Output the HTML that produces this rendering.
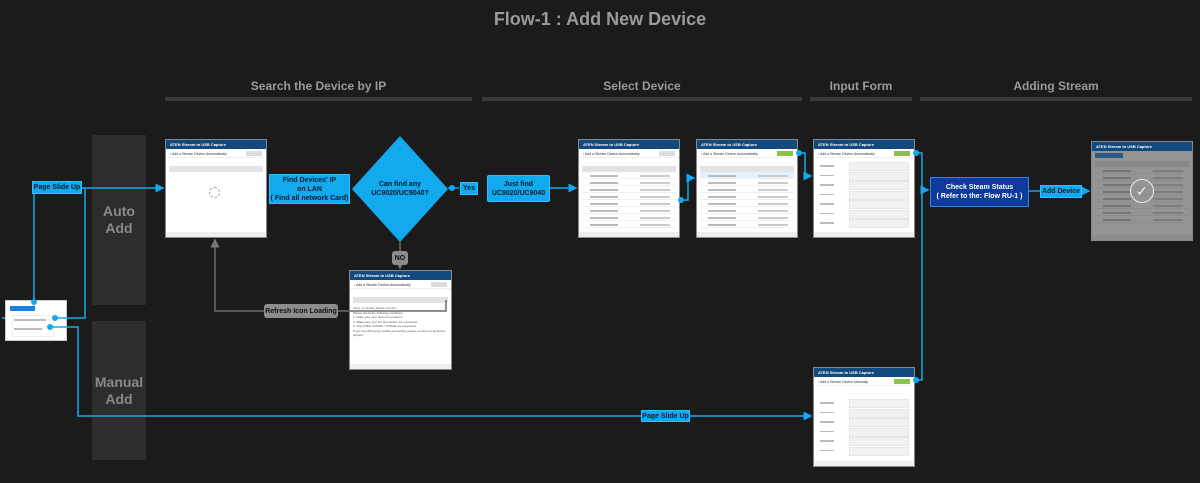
<!DOCTYPE html>
<html><head><meta charset="utf-8">
<style>
*{box-sizing:border-box;margin:0;padding:0}
body{width:1200px;height:483px;background:#1b1b1b;font-family:"Liberation Sans",sans-serif;position:relative;overflow:hidden}
.a{position:absolute}
.title{left:0;width:1200px;top:9px;text-align:center;color:#9a9a9a;font-weight:bold;font-size:18px}
.sh{color:#9a9a9a;font-weight:bold;font-size:12px;text-align:center;top:79px}
.bar{top:97px;height:4px;background:#3a3a3a}
.col{background:#2d2d2d;color:#8a8a8a;font-weight:bold;font-size:14px;text-align:center;display:flex;align-items:center;justify-content:center;line-height:17px}
.win{background:#fff;border:1px solid #888;overflow:hidden}
.win .hd{height:9px;background:#124a80;color:#fff;font-size:4px;font-weight:bold;padding:2px 4px;white-space:nowrap}
.win .sub{height:9px;font-size:3.5px;color:#333;padding:3px 4px;border-bottom:1px solid #eee;white-space:nowrap}
.win .th{height:6px;background:#e3e3e3;margin:4px 3px 0}
.row{height:7px;border-bottom:1px solid #f0f0f0;margin:0 3px;position:relative}
.row:before{content:"";position:absolute;left:8px;top:3px;width:28px;height:1.5px;background:#bbb}
.row:after{content:"";position:absolute;left:58px;top:3px;width:30px;height:1.5px;background:#ccc}
.ft{position:absolute;bottom:0;left:0;right:0;height:5px;background:#eee}
.btn{position:absolute;right:4px;top:11px;width:16px;height:5px;background:#8bc34a}
.btng{background:#ddd}
.fr{height:9.5px;margin:0 3px;position:relative}
.fr:before{content:"";position:absolute;left:3px;top:4px;width:14px;height:1.5px;background:#bbb}
.fr:after{content:"";position:absolute;left:32px;top:1px;right:2px;height:7px;background:#f1f1f1;border:1px solid #e6e6e6}
.bx{background:#12a9ef;color:#0a1a2a;font-weight:bold;font-size:7px;text-align:center;display:flex;align-items:center;justify-content:center;border:1px solid #2bc0ff;line-height:9px;white-space:nowrap}
.gb{background:#8c8c8c;color:#111;font-weight:bold;font-size:7px;display:flex;align-items:center;justify-content:center;border-radius:3px;white-space:nowrap}
</style></head><body>
<div class="a title">Flow-1 : Add New Device</div>
<div class="a sh" style="left:165px;width:307px">Search the Device by IP</div>
<div class="a bar" style="left:165px;width:307px"></div>
<div class="a sh" style="left:482px;width:320px">Select Device</div>
<div class="a bar" style="left:482px;width:320px"></div>
<div class="a sh" style="left:810px;width:102px">Input Form</div>
<div class="a bar" style="left:810px;width:102px"></div>
<div class="a sh" style="left:920px;width:272px">Adding Stream</div>
<div class="a bar" style="left:920px;width:272px"></div>

<div class="a col" style="left:92px;top:135px;width:54px;height:170px">Auto<br>Add</div>
<div class="a col" style="left:92px;top:321px;width:54px;height:139px">Manual<br>Add</div>

<div class="a" style="left:5px;top:300px;width:62px;height:41px;background:#fff;border:1px solid #ccc">
<div class="a" style="left:4px;top:5px;width:25px;height:5px;background:#1a7fe0"></div>
<div class="a" style="left:6px;top:14px;width:42px;height:22px;border:1px solid #eee"></div>
<div class="a" style="left:8px;top:18px;width:32px;height:1.5px;background:#bbb"></div>
<div class="a" style="left:8px;top:27px;width:28px;height:1.5px;background:#bbb"></div>
</div>

<div class="a win" style="left:165px;top:139px;width:102px;height:99px">
<div class="hd">ATEN Stream to USB Capture</div><div class="sub">‹ Add a Stream Device Automatically</div>
<div class="btn btng"></div><div class="th" style="margin-top:8px"></div>
<div class="a" style="left:43px;top:47px;width:11px;height:11px;border:1.5px dashed #aaa;border-radius:50%"></div>
<div class="ft"></div></div>

<div class="a win" style="left:349px;top:270px;width:103px;height:100px">
<div class="hd">ATEN Stream to USB Capture</div><div class="sub">‹ Add a Stream Device Automatically</div>
<div class="btn btng"></div><div class="th" style="margin-top:8px"></div>
<div style="padding:3px 3px;font-size:3px;color:#555;line-height:4.5px">Sorry, no stream device is found.<br>Please check the following conditions:<br>1. Make sure your device is powered.<br>2. Make sure your PC and device are connected.<br>3. Only ATEN UC9020 / UC9040 are supported.<br>If you are still having trouble connecting, please contact our technical support.</div>
<div class="ft"></div></div>

<div class="a win" style="left:578px;top:139px;width:102px;height:99px">
<div class="hd">ATEN Stream to USB Capture</div><div class="sub">‹ Add a Stream Device Automatically</div>
<div class="btn btng"></div><div class="th" style="margin-top:8px"></div>
<div class="row"></div><div class="row"></div><div class="row"></div><div class="row"></div><div class="row"></div><div class="row"></div><div class="row"></div><div class="row"></div>
<div class="ft"></div></div>
<div class="a win" style="left:696px;top:139px;width:102px;height:99px">
<div class="hd">ATEN Stream to USB Capture</div><div class="sub">‹ Add a Stream Device Automatically</div>
<div class="btn"></div><div class="th" style="margin-top:8px"></div>
<div class="row" style="background:#e3f1fd"></div><div class="row"></div><div class="row"></div><div class="row"></div><div class="row"></div><div class="row"></div><div class="row"></div><div class="row"></div>
<div class="ft"></div></div>
<div class="a win" style="left:813px;top:139px;width:102px;height:99px">
<div class="hd">ATEN Stream to USB Capture</div><div class="sub">‹ Add a Stream Device Automatically</div>
<div class="btn"></div><div style="height:3px"></div>
<div class="fr"></div><div class="fr"></div><div class="fr"></div><div class="fr"></div><div class="fr"></div><div class="fr"></div><div class="fr" style="height:14px"></div>
<div class="ft"></div></div>
<div class="a win" style="left:813px;top:367px;width:102px;height:100px">
<div class="hd">ATEN Stream to USB Capture</div><div class="sub">‹ Add a Stream Device Manually</div>
<div class="btn"></div><div style="height:12px"></div>
<div class="fr"></div><div class="fr"></div><div class="fr"></div><div class="fr"></div><div class="fr"></div><div class="fr"></div>
<div class="ft"></div></div>
<div class="a win" style="left:1091px;top:141px;width:102px;height:100px">
<div class="hd">ATEN Stream to USB Capture</div>
<div style="height:9px;padding:2px 3px"><div style="width:28px;height:5px;background:#1a7fe0"></div></div>
<div class="th" style="margin-top:1px"></div>
<div class="row"></div><div class="row"></div><div class="row"></div><div class="row"></div><div class="row"></div><div class="row"></div><div class="row"></div><div class="row"></div>
<div class="ft"></div>
<div class="a" style="left:0;top:9px;right:0;bottom:0;background:rgba(60,60,60,.55)"></div>
<div class="a" style="left:38px;top:37px;width:24px;height:24px;border:1.5px solid #eee;border-radius:50%;color:#eee;font-size:14px;text-align:center;line-height:22px">✓</div>
</div>

<svg class="a" style="left:0;top:0" width="1200" height="483">
<defs>
<marker id="ar" markerWidth="6" markerHeight="6" refX="5" refY="3" orient="auto"><path d="M0,0L6,3L0,6z" fill="#12a9ef"/></marker>
<marker id="ag" markerWidth="6" markerHeight="6" refX="5" refY="3" orient="auto"><path d="M0,0L6,3L0,6z" fill="#777"/></marker>
</defs>
<g fill="none" stroke="#12a9ef" stroke-width="1.5">
<path d="M34,302V188"/>
<path d="M82,188H163" marker-end="url(#ar)"/>
<path d="M55,318H85V188"/>
<path d="M50,327H78V416H811" marker-end="url(#ar)"/>
<path d="M448,188H459"/>
<path d="M550,188H576" marker-end="url(#ar)"/>
<path d="M680,200H688V178H694" marker-end="url(#ar)"/>
<path d="M798,153H805V176H811" marker-end="url(#ar)"/>
<path d="M915,153H922V380H915"/>
<path d="M922,190H928" marker-end="url(#ar)"/>
<path d="M1029,191H1040"/>
<path d="M1082,191H1089" marker-end="url(#ar)"/>
<path d="M2,318H5"/>
</g>
<g fill="#12a9ef">
<circle cx="34" cy="302" r="3"/><circle cx="55" cy="318" r="3"/><circle cx="50" cy="327" r="3"/>
<circle cx="452" cy="188" r="3"/><circle cx="681" cy="200" r="3"/><circle cx="799" cy="153" r="3"/>
<circle cx="916" cy="153" r="3"/><circle cx="916" cy="380" r="3"/>
</g>
<g fill="none" stroke="#6a6a6a" stroke-width="1.5">
<path d="M400,242V268" marker-end="url(#ag)"/>
<path d="M446,300V311H215V240" marker-end="url(#ag)"/>
</g>
<polygon points="400,136 448,189 400,242 352,189" fill="#12a9ef"/>
</svg>
<div class="a" style="left:355px;top:180px;width:90px;text-align:center;font-weight:bold;font-size:7px;color:#0a1a2a;line-height:9px;white-space:nowrap">Can find any<br>UC9020/UC9040?</div>

<div class="a bx" style="left:32px;top:181px;width:50px;height:13px">Page Slide Up</div>
<div class="a bx" style="left:269px;top:174px;width:81px;height:30px">Find Devices' IP<br>on LAN<br>( Find all network Card)</div>
<div class="a bx" style="left:460px;top:182px;width:18px;height:13px">Yes</div>
<div class="a bx" style="left:487px;top:175px;width:63px;height:27px;border-radius:2px">Just find<br>UC9020/UC9040</div>
<div class="a bx" style="left:930px;top:177px;width:99px;height:30px;background:#0d3a9c;color:#fff;border-color:#2b8ae0">Check Steam Status<br>( Refer to the: Flow RU-1 )</div>
<div class="a bx" style="left:1040px;top:185px;width:42px;height:13px">Add Device</div>
<div class="a bx" style="left:641px;top:410px;width:49px;height:12px">Page Slide Up</div>
<div class="a gb" style="left:392px;top:251px;width:16px;height:14px">NO</div>
<div class="a gb" style="left:264px;top:304px;width:74px;height:14px">Refresh Icon Loading</div>
</body></html>
